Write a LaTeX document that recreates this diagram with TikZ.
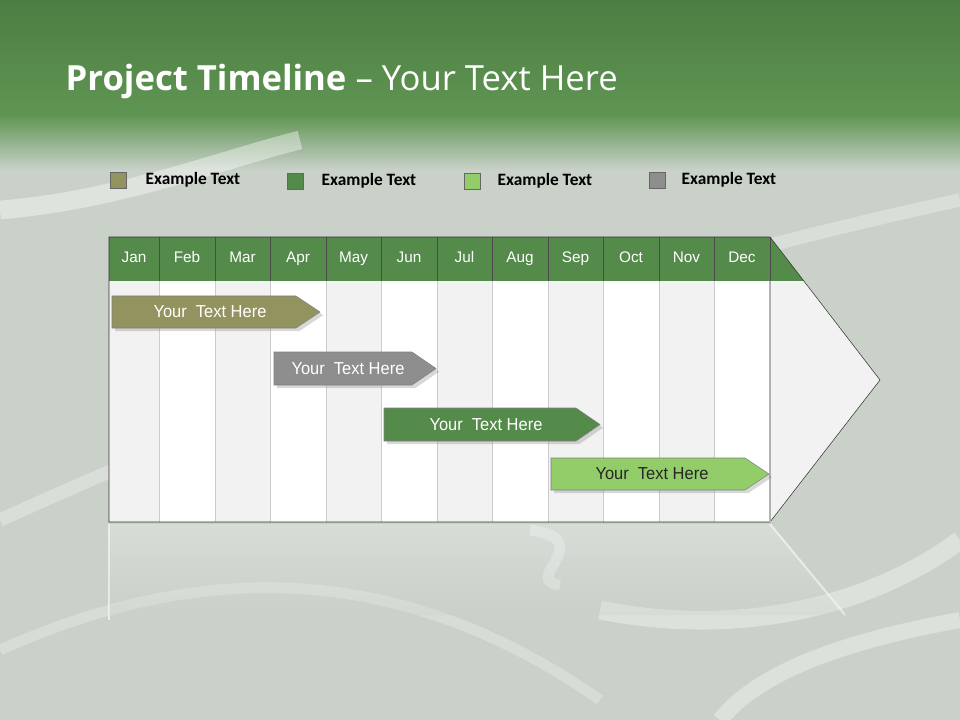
\documentclass[tikz,border=0pt]{standalone}
\usepackage{fontspec}
\setmainfont{Carlito}
\newfontfamily\titlefont{Open Sans}
\newfontfamily\armf{Liberation Sans}
\usetikzlibrary{shadows}
\definecolor{hdr}{HTML}{548A4A}
\definecolor{olive}{HTML}{939360}
\definecolor{grayb}{HTML}{8E8E8E}
\definecolor{lgreen}{HTML}{92CD6A}
\definecolor{bgg}{HTML}{C9D1C9}
\definecolor{topg}{HTML}{4C7D42}
\definecolor{topg2}{HTML}{5F9553}
\definecolor{colg}{HTML}{F2F2F2}
\tikzset{
 month/.style={font=\armf\fontsize{11.5}{13}\selectfont, text=white, text height=8pt, text depth=2pt},
 leg/.style={font=\bfseries\fontsize{13}{15}\selectfont, anchor=west},
 legbox/.style={draw=black!60, minimum width=12pt, minimum height=12pt, inner sep=0pt},
 barlbl/.style={font=\armf\fontsize{13}{15}\selectfont, text=white, xscale=0.95},
 bar/.style={draw=black!50, line width=0.4pt},
}
\begin{document}
\begin{tikzpicture}[x=0.75pt,y=-0.75pt]
\useasboundingbox (0,0) rectangle (960,720);
\fill[bgg] (0,0) rectangle (960,720);
\shade[top color=topg, bottom color=topg2] (0,0) rectangle (960,115);
\shade[top color=topg2, bottom color=bgg] (0,115) rectangle (960,170);
% faint decorative swirls
\draw[white, opacity=0.4, line width=14pt] (0,210) .. controls (120,200) and (220,160) .. (300,140);
\draw[white, opacity=0.3, line width=10pt] (0,520) .. controls (200,430) and (500,300) .. (960,200);
\draw[white, opacity=0.35, line width=14pt] (600,610) .. controls (750,640) and (880,600) .. (960,540);
\draw[white, opacity=0.35, line width=12pt] (720,720) .. controls (760,670) and (850,640) .. (960,620);
\draw[white, opacity=0.3, line width=8pt] (530,530) .. controls (600,540) and (520,580) .. (560,585);
\draw[white, opacity=0.25, line width=8pt] (0,650) .. controls (200,560) and (400,560) .. (600,700);
\node[anchor=west, text=white, font=\titlefont\fontsize{26}{30}\selectfont] (title) at (61,81) {\textbf{Project Timeline} \textendash\ Your Text Here};
% legend
\node[legbox, fill=olive] (l1) at (118,180) {};
\node[leg] (t1) at (141,180) {Example Text};
\node[legbox, fill=hdr] (l2) at (295,181) {};
\node[leg] (t2) at (317,181) {Example Text};
\node[legbox, fill=lgreen] (l3) at (472,181) {};
\node[leg] (t3) at (493,181) {Example Text};
\node[legbox, fill=grayb] (l4) at (657,180) {};
\node[leg] (t4) at (677,180) {Example Text};
% reflection
\draw[white, opacity=0.6, line width=1.5pt] (109,524) -- (109,620);
\draw[white, opacity=0.6, line width=1.5pt] (770,524) -- (845,615);
\shade[top color=white, bottom color=bgg, opacity=0.25] (109,524) -- (770,524) -- (845,615) -- (109,615) -- cycle;
% body
\fill[colg] (770,237) -- (880,380) -- (770,522) -- cycle;
\foreach \a/\b/\c in {109/159/colg,159/215/white,215/270/colg,270/326/white,326/381/colg,381/437/white,437/492/colg,492/548/white,548/603/colg,603/659/white,659/714/colg,714/770/white}{
 \fill[\c] (\a,281) rectangle (\b,522);
}
\foreach \a in {159,215,270,326,381,437,492,548,603,659,714}{ \draw[black!20] (\a,281) -- (\a,522); }
\fill[hdr] (109,237) rectangle (770,281);
\fill[hdr] (770,237) -- (804,281) -- (770,281) -- cycle;
\foreach \a in {159,215,270,326,381,437,492,548,603,659,714,770}{ \draw[black!70] (\a,237) -- (\a,281); }
\draw[black!80] (109,522) -- (109,237) -- (770,237) -- (880,380) -- (770,522) -- cycle;
\draw[black!30, line width=1pt] (770,281) -- (770,522);
\foreach \n/\x in {Jan/134,Feb/187,Mar/242.5,Apr/298,May/353.5,Jun/409,Jul/464.5,Aug/520,Sep/575.5,Oct/631,Nov/686.5,Dec/742}{
 \node[month] (m\n) at (\x,259) {\n};
}
% bars
\draw[bar, fill=olive, drop shadow={opacity=0.3}] (112,296) -- (296,296) -- (320,312) -- (296,328) -- (112,328) -- cycle;
\node[barlbl] (b1) at (210,312) {Your\ \ Text Here};
\draw[bar, fill=grayb, drop shadow={opacity=0.3}] (274,352) -- (412,352) -- (436,368.5) -- (412,385) -- (274,385) -- cycle;
\node[barlbl] (b2) at (348,368.5) {Your\ \ Text Here};
\draw[bar, fill=hdr, drop shadow={opacity=0.3}] (384,408) -- (576,408) -- (600,424.5) -- (576,441) -- (384,441) -- cycle;
\node[barlbl] (b3) at (486,424.5) {Your\ \ Text Here};
\draw[bar, fill=lgreen, drop shadow={opacity=0.3}] (551,458) -- (745,458) -- (769,474) -- (745,490) -- (551,490) -- cycle;
\node[barlbl, text=black!85] (b4) at (652,474) {Your\ \ Text Here};
\end{tikzpicture}
\end{document}
